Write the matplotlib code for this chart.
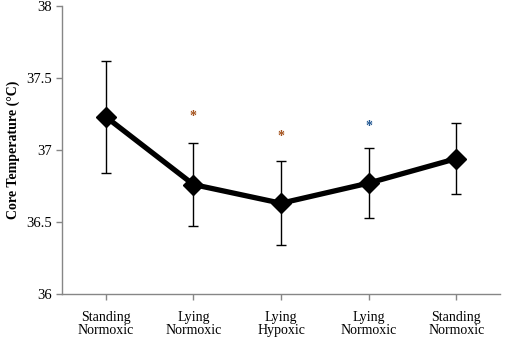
import matplotlib
matplotlib.use("Agg")
from matplotlib import pyplot as plt

categories = ["Standing\nNormoxic", "Lying\nNormoxic", "Lying\nHypoxic", "Lying\nNormoxic", "Standing\nNormoxic"]
core_temp = [37.23, 36.76, 36.63, 36.77, 36.94]
temp_err = [0.39, 0.29, 0.29, 0.245, 0.245]
# significance markers: (category index, y value, colour)
star_pos = [1, 2, 3]
star_y = [37.26, 37.12, 37.19]
star_colors = ["#A3501A", "#A3501A", "#1F5590"]

plt.rcParams["font.family"] = "serif"
plt.rcParams["font.serif"] = ["Liberation Serif", "DejaVu Serif"]

fig = plt.figure(figsize=(5.07, 3.43), dpi=100)
ax = fig.add_axes([0.1223, 0.143, 0.864, 0.8395])

x = list(range(len(categories)))
ax.errorbar(x, core_temp, yerr=temp_err, fmt="none", ecolor="black",
            elinewidth=1, capsize=3.5, capthick=1, zorder=2)
ax.plot(x, core_temp, color="black", linewidth=3.8, marker="D",
        markersize=10, zorder=3)

for i, yv, c in zip(star_pos, star_y, star_colors):
    ax.annotate("*", (i, yv), xytext=(0, -3), textcoords="offset points",
                color=c, fontsize=10, fontweight="bold", ha="center", va="center")

ax.set_xlim(-0.5, 4.5)
ax.set_ylim(36, 38)
ax.set_yticks([36, 36.5, 37, 37.5, 38])
ax.set_yticklabels(["36", "36.5", "37", "37.5", "38"])
ax.set_xticks(x)
ax.set_xticklabels(categories, linespacing=1.05)
ax.tick_params(axis="both", labelsize=10, color="#868686", length=4, width=1)
ax.tick_params(axis="y", labelsize=10.5)
ax.tick_params(axis="x", pad=8)

for s in ["top", "right"]:
    ax.spines[s].set_visible(False)
for s in ["left", "bottom"]:
    ax.spines[s].set_color("#868686")
    ax.spines[s].set_linewidth(1)

ax.set_ylabel("Core Temperature (°C)", fontsize=10, fontweight="bold", labelpad=4)

fig.savefig("out.png", dpi=100)
